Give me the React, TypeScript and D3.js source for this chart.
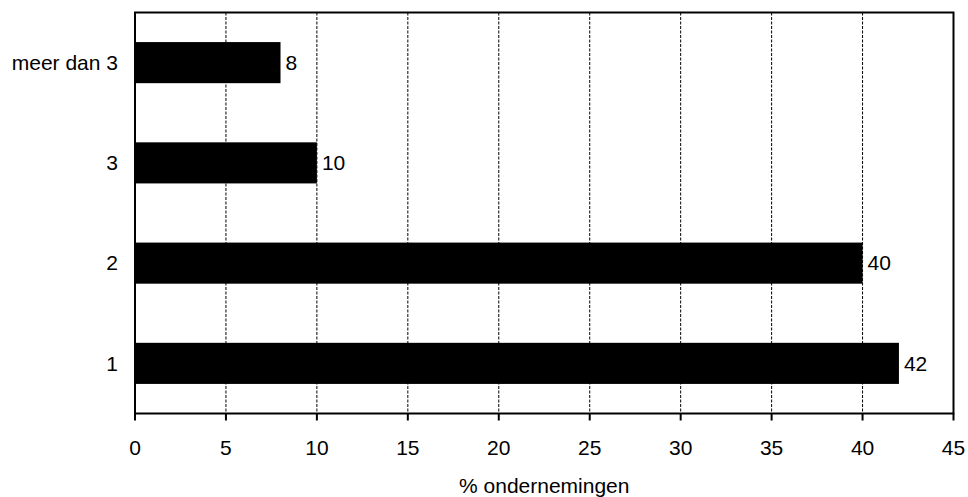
import { useRef, useEffect } from "react"
import * as d3 from "d3"

const categories = ["meer dan 3", "3", "2", "1"]
const values = [8, 10, 40, 42]
const xTicks = [0, 5, 10, 15, 20, 25, 30, 35, 40, 45]
const xTitle = "% ondernemingen"

export default function App() {
  const svgRef = useRef<SVGSVGElement>(null)

  useEffect(() => {
    if (!svgRef.current) return
    const svg = d3.select(svgRef.current)
    svg.selectAll("*").remove()

    const width = 968
    const height = 497
    const margin = { top: 12.5, right: 14.5, bottom: 83.5, left: 135 }
    const font = "Liberation Sans, Arial, sans-serif"
    const fontSize = 21

    const x = d3
      .scaleLinear()
      .domain([0, 45])
      .range([margin.left, width - margin.right])

    const y = d3
      .scaleBand()
      .domain(categories)
      .range([margin.top, height - margin.bottom])
      .paddingInner(0.59)
      .paddingOuter(0.295)

    const top = margin.top
    const bottom = height - margin.bottom

    // dashed grid lines
    svg
      .append("g")
      .selectAll("line")
      .data(xTicks.filter((t) => t > 0 && t < 45))
      .join("line")
      .attr("x1", (d) => x(d))
      .attr("x2", (d) => x(d))
      .attr("y1", top)
      .attr("y2", bottom)
      .attr("stroke", "#000")
      .attr("stroke-width", 1)
      .attr("stroke-dasharray", "3,1.5")

    // bars
    const rows = categories.map((c, i) => ({ c, v: values[i] }))
    svg
      .append("g")
      .selectAll("rect")
      .data(rows)
      .join("rect")
      .attr("x", x(0))
      .attr("y", (d) => y(d.c)!)
      .attr("width", (d) => x(d.v) - x(0))
      .attr("height", y.bandwidth())
      .attr("fill", "#000")

    // value labels
    svg
      .append("g")
      .selectAll("text")
      .data(rows)
      .join("text")
      .attr("x", (d) => x(d.v) + 5)
      .attr("y", (d) => y(d.c)! + y.bandwidth() / 2)
      .attr("dy", "0.35em")
      .attr("font-family", font)
      .attr("font-size", fontSize)
      .text((d) => d.v)

    // frame
    svg
      .append("rect")
      .attr("x", x(0))
      .attr("y", top)
      .attr("width", x(45) - x(0))
      .attr("height", bottom - top)
      .attr("fill", "none")
      .attr("stroke", "#000")
      .attr("stroke-width", 2)

    // category labels
    svg
      .append("g")
      .selectAll("text")
      .data(categories)
      .join("text")
      .attr("x", margin.left - 17)
      .attr("y", (d) => y(d)! + y.bandwidth() / 2)
      .attr("dy", "0.35em")
      .attr("text-anchor", "end")
      .attr("font-family", font)
      .attr("font-size", fontSize)
      .text((d) => d)

    // x ticks
    const tickG = svg.append("g")
    tickG
      .selectAll("line")
      .data(xTicks)
      .join("line")
      .attr("x1", (d) => x(d))
      .attr("x2", (d) => x(d))
      .attr("y1", bottom)
      .attr("y2", bottom + 7)
      .attr("stroke", "#000")
      .attr("stroke-width", 2)

    tickG
      .selectAll("text")
      .data(xTicks)
      .join("text")
      .attr("x", (d) => x(d))
      .attr("y", 455)
      .attr("text-anchor", "middle")
      .attr("font-family", font)
      .attr("font-size", fontSize)
      .text((d) => d)

    svg
      .append("text")
      .attr("x", (x(0) + x(45)) / 2)
      .attr("y", 493)
      .attr("text-anchor", "middle")
      .attr("font-family", font)
      .attr("font-size", fontSize)
      .text(xTitle)
  }, [])

  return (
    <svg
      ref={svgRef}
      width={968}
      height={497}
      style={{ position: "absolute", left: 0, top: 0, background: "#fff" }}
    />
  )
}
